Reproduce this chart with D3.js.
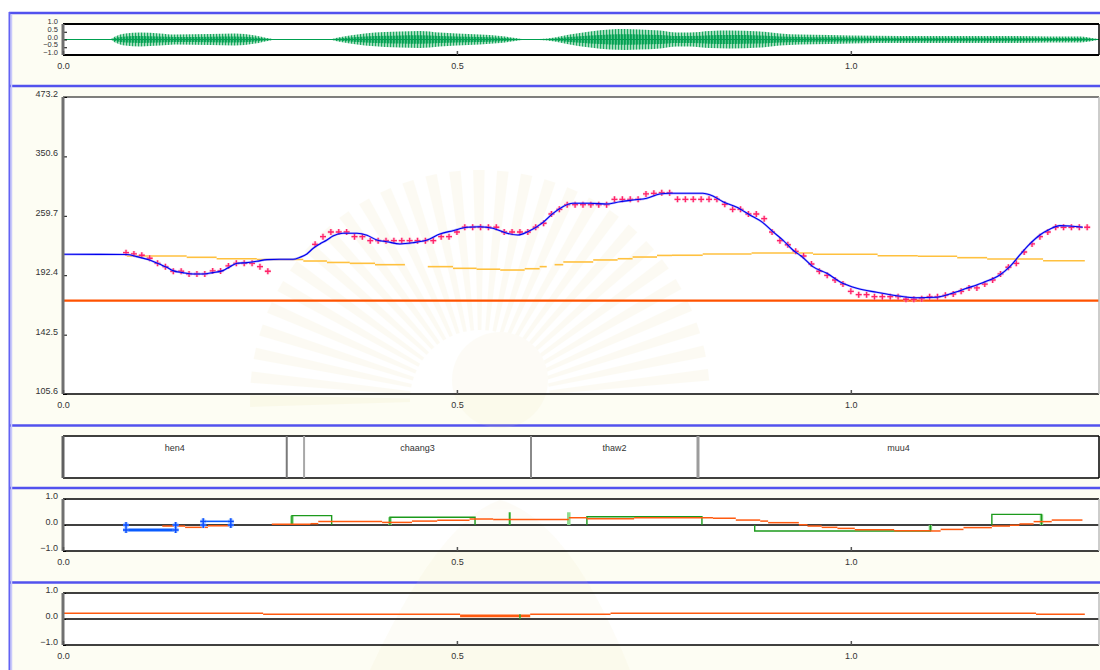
<!DOCTYPE html>
<html>
<head>
<meta charset="utf-8">
<script src="https://cdn.jsdelivr.net/npm/d3@7"></script>
<style>
  html, body { margin: 0; padding: 0; background: #fff; }
  svg { display: block; font-family: "Liberation Sans", Arial, sans-serif; }
  .tick text, .lbl { font-size: 9px; fill: #333; }
  .small .tick text { font-size: 7.5px; }
</style>
</head>
<body>
<svg id="chart" width="1100" height="670"></svg>
<script>
// ---- time axis ----
const timeEnd = 1.315;               // seconds shown
const timeTicks = [0, 0.5, 1.0];

// ---- waveform: amplitude envelope [time, peak] ----
const ampTicks = [1.0, 0.5, 0.0, -0.5, -1.0];
const waveEnvelope = [
  [0, 0.02], [0.060, 0.02], [0.066, 0.19], [0.079, 0.39], [0.098, 0.45], [0.123, 0.39],
  [0.142, 0.32], [0.187, 0.35], [0.218, 0.39], [0.244, 0.26], [0.263, 0.06], [0.269, 0.02],
  [0.339, 0.02], [0.349, 0.13], [0.364, 0.26], [0.383, 0.39], [0.409, 0.48], [0.428, 0.52],
  [0.453, 0.55], [0.478, 0.45], [0.500, 0.39], [0.529, 0.32], [0.555, 0.23], [0.574, 0.10],
  [0.586, 0.02], [0.605, 0.03], [0.624, 0.13], [0.643, 0.32], [0.669, 0.52], [0.694, 0.65],
  [0.713, 0.68], [0.732, 0.65], [0.758, 0.58], [0.779, 0.45], [0.796, 0.45], [0.821, 0.55],
  [0.846, 0.58], [0.885, 0.52], [0.910, 0.39], [0.935, 0.32], [0.973, 0.29], [0.999, 0.26],
  [1.062, 0.23], [1.126, 0.23], [1.189, 0.23], [1.253, 0.19], [1.291, 0.19], [1.310, 0.06],
  [1.315, 0.02]
];

// ---- F0 (Hz) ----
const pitchTicks = [105.6, 142.5, 192.4, 259.7, 350.6, 473.2];
const floorHz = 169.2;
const pitchCurve = [
  [0, 213.8], [0.081, 213.6], [0.0935, 211.3], [0.110, 207.8], [0.123, 203.3], [0.1316, 200.3],
  [0.1396, 196.9], [0.152, 194.9], [0.165, 193.6], [0.178, 193.6], [0.190, 194.9], [0.203, 196.9],
  [0.212, 200.9], [0.221, 204.3], [0.2335, 205.0], [0.246, 206.4], [0.259, 208.1], [0.2754, 208.5],
  [0.292, 208.5], [0.3008, 210.6], [0.3096, 214.2], [0.3173, 220.2], [0.326, 225.3], [0.335, 229.8],
  [0.3426, 234.5], [0.3553, 237.8], [0.373, 237.8], [0.3858, 235.4], [0.3985, 229.8], [0.411, 227.9],
  [0.4277, 225.3], [0.444, 226.7], [0.462, 229.8], [0.4784, 236.9], [0.495, 240.9], [0.5127, 245.1],
  [0.529, 245.8], [0.5457, 243.9], [0.5635, 237.8], [0.5774, 235.7], [0.590, 239.7], [0.609, 250.9],
  [0.622, 263.0], [0.6345, 272.0], [0.647, 276.7], [0.6688, 276.7], [0.690, 275.7], [0.707, 278.9],
  [0.7234, 281.3], [0.741, 283.7], [0.7576, 290.0], [0.770, 291.0], [0.812, 291.0], [0.8249, 287.0],
  [0.8376, 278.9], [0.8553, 271.1], [0.8718, 260.8], [0.8883, 250.9], [0.901, 239.7], [0.9137, 229.8],
  [0.9264, 218.5], [0.939, 210.6], [0.9518, 200.9], [0.9695, 194.3], [0.986, 186.2], [1.0076, 180.1],
  [1.033, 176.5], [1.0584, 173.5], [1.0838, 171.7], [1.109, 172.1], [1.1256, 175.0], [1.1472, 180.1],
  [1.1675, 185.3], [1.189, 192.6], [1.2018, 200.9], [1.2145, 213.1], [1.2272, 225.3], [1.240, 235.7],
  [1.2525, 242.6], [1.2652, 247.1], [1.278, 246.7], [1.2944, 245.1]
];
const pitchMarks = [
  [0.08, 215.6], [0.09, 214.2], [0.10, 212.8], [0.11, 209.6], [0.12, 204.3], [0.13, 200.9],
  [0.14, 196.3], [0.15, 196.3], [0.16, 193.6], [0.17, 193.6], [0.18, 193.6], [0.19, 196.6],
  [0.20, 196.6], [0.21, 201.6], [0.22, 204.3], [0.23, 204.3], [0.24, 204.3], [0.25, 200.9],
  [0.26, 196.3],
  [0.32, 224.9], [0.33, 233.7], [0.34, 239.3], [0.35, 239.3], [0.36, 239.3], [0.37, 233.7],
  [0.38, 233.7], [0.39, 229.0], [0.40, 229.0], [0.41, 229.0], [0.42, 229.0], [0.43, 229.0],
  [0.44, 229.0], [0.45, 229.0], [0.46, 229.0], [0.47, 229.0], [0.48, 233.7], [0.49, 233.7],
  [0.50, 239.3], [0.51, 245.1], [0.52, 245.1], [0.53, 245.1], [0.54, 245.1], [0.55, 245.1],
  [0.56, 239.3], [0.57, 239.3], [0.58, 239.3], [0.59, 239.3], [0.60, 245.1], [0.61, 250.1],
  [0.62, 262.1], [0.63, 268.4], [0.64, 274.7], [0.65, 274.7], [0.66, 274.7], [0.67, 274.7],
  [0.68, 274.7], [0.69, 274.7], [0.70, 282.3], [0.71, 282.3], [0.72, 282.3], [0.73, 282.3],
  [0.74, 290.0], [0.75, 290.9], [0.76, 291.9], [0.77, 291.9], [0.78, 282.3], [0.79, 282.3],
  [0.80, 282.3], [0.81, 282.3], [0.82, 282.3], [0.83, 282.3], [0.84, 275.2], [0.85, 268.4],
  [0.86, 268.4], [0.87, 262.1], [0.88, 262.1], [0.89, 256.0], [0.90, 239.3], [0.91, 229.0],
  [0.92, 224.4], [0.93, 217.1], [0.94, 212.0], [0.95, 203.6], [0.96, 196.3], [0.97, 192.3],
  [0.98, 187.8], [0.99, 184.0], [1.00, 177.4], [1.01, 174.4], [1.02, 174.4], [1.03, 172.6],
  [1.04, 172.6], [1.05, 172.6], [1.06, 172.6], [1.07, 170.4], [1.08, 170.4], [1.09, 170.9],
  [1.10, 172.6], [1.11, 172.6], [1.12, 173.8], [1.13, 175.0], [1.14, 177.4], [1.15, 180.4],
  [1.16, 180.4], [1.17, 184.0], [1.18, 187.8], [1.19, 193.6], [1.20, 200.3], [1.21, 204.3],
  [1.22, 216.3], [1.23, 225.3], [1.24, 233.7], [1.25, 239.3], [1.26, 245.1], [1.27, 245.1],
  [1.28, 245.1], [1.29, 245.1], [1.30, 245.1]
];
// declination line: [start, end, Hz]
const declination = [
  [0.081, 0.157, 212.0], [0.157, 0.195, 210.6], [0.195, 0.246, 209.1], [0.246, 0.305, 208.3],
  [0.305, 0.335, 206.7], [0.335, 0.364, 205.2], [0.364, 0.396, 204.3], [0.396, 0.434, 202.9],
  [0.463, 0.495, 200.9], [0.495, 0.525, 199.2], [0.525, 0.555, 198.3], [0.555, 0.586, 197.5],
  [0.586, 0.605, 198.8], [0.605, 0.614, 200.9],
  [0.624, 0.635, 202.9], [0.635, 0.673, 205.7], [0.673, 0.704, 207.8], [0.704, 0.723, 209.1],
  [0.723, 0.754, 210.9], [0.754, 0.773, 212.6], [0.773, 0.812, 212.8], [0.812, 0.874, 214.2],
  [0.874, 0.952, 215.2], [0.952, 1.034, 213.8], [1.034, 1.085, 212.3], [1.085, 1.135, 211.7],
  [1.135, 1.173, 210.2], [1.173, 1.244, 208.8], [1.244, 1.297, 207.0]
];

// ---- syllable tier: [start, end, label] ----
const syllables = [
  [0.000, 0.284, "hen4"],
  [0.284, 0.306, ""],
  [0.306, 0.594, "chaang3"],
  [0.594, 0.806, "thaw2"],
  [0.806, 1.315, "muu4"]
];

// ---- lower tracks (normalised units) ----
const unitTicks = [1.0, 0.0, -1.0];
const blueTargets = [[0.080, 0.143, -0.19], [0.178, 0.213, 0.14]];     // [start, end, value]
const greenTargets = [
  [0.2906, 0.341, 0.36], [0.415, 0.523, 0.30], [0.665, 0.811, 0.32],
  [0.878, 1.101, -0.23], [1.179, 1.242, 0.41]
];
const greenOnsets = [[0.2906, 0.36], [0.415, 0.30], [0.642, 0.49], [1.101, -0.23], [1.242, 0.41]];
const greenSpikes = [[0.567, 0.49]];
const trackA = [
  [0.126, 0.155, -0.04], [0.155, 0.184, -0.09], [0.184, 0.213, -0.03],
  [0.265, 0.314, 0.03], [0.314, 0.324, 0.05], [0.324, 0.405, 0.13], [0.405, 0.443, 0.10],
  [0.443, 0.475, 0.15], [0.475, 0.516, 0.18], [0.516, 0.546, 0.23], [0.546, 0.642, 0.21],
  [0.642, 0.665, 0.28], [0.665, 0.725, 0.24], [0.725, 0.825, 0.28], [0.825, 0.854, 0.26],
  [0.854, 0.885, 0.19], [0.885, 0.895, 0.15], [0.895, 0.934, 0.09], [0.934, 0.945, 0.01],
  [0.945, 0.963, -0.04], [0.963, 0.983, -0.09], [0.983, 1.005, -0.13], [1.005, 1.055, -0.18],
  [1.055, 1.101, -0.22], [1.101, 1.114, -0.23], [1.114, 1.143, -0.17], [1.143, 1.179, -0.10],
  [1.179, 1.202, -0.04], [1.202, 1.214, -0.01], [1.214, 1.232, 0.04], [1.232, 1.255, 0.13],
  [1.255, 1.294, 0.19]
];
const trackB = [
  [0.000, 0.254, 0.22], [0.254, 0.504, 0.18], [0.504, 0.593, 0.12],
  [0.593, 0.695, 0.18], [0.695, 1.235, 0.22], [1.235, 1.297, 0.18]
];
const trackBSpikes = [[0.580, 0.18]];

// ================= drawing =================
const svg = d3.select("#chart");
const X0 = 63, X1 = 1099;
const x = d3.scaleLinear().domain([0, timeEnd]).range([X0, X1]);

const panels = {
  wave:  { top: 24,  bottom: 55 },
  pitch: { top: 97,  bottom: 394 },
  tier:  { top: 436, bottom: 478 },
  a:     { top: 499, bottom: 551 },
  b:     { top: 593, bottom: 645 }
};

// page frame
svg.append("rect").attr("width", 1100).attr("height", 670).attr("fill", "#ffffff");
svg.append("rect").attr("x", 9).attr("y", 12).attr("width", 1091).attr("height", 658).attr("fill", "#fdfdf3");
[13, 86, 425.5, 488, 582.5].forEach(yy => {
  svg.append("line").attr("x1", 9).attr("x2", 1100).attr("y1", yy).attr("y2", yy)
    .attr("stroke", "#5252ee").attr("stroke-width", 2.5);
});
svg.append("line").attr("x1", 9.5).attr("x2", 9.5).attr("y1", 12).attr("y2", 670)
  .attr("stroke", "#6262f4").attr("stroke-width", 2);
svg.append("line").attr("x1", 11.5).attr("x2", 11.5).attr("y1", 14).attr("y2", 670)
  .attr("stroke", "#c9c9fb").attr("stroke-width", 1.5);

// white plot areas
Object.values(panels).forEach(p => {
  svg.append("rect").attr("x", X0).attr("y", p.top).attr("width", X1 - X0).attr("height", p.bottom - p.top)
    .attr("fill", "#ffffff");
});

// stripes for waveform fill
const defs = svg.append("defs");
const pat1 = defs.append("pattern").attr("id", "stripeLight").attr("patternUnits", "userSpaceOnUse")
  .attr("width", 3).attr("height", 40);
pat1.append("rect").attr("width", 3).attr("height", 40).attr("fill", "#a6e0bf");
pat1.append("rect").attr("width", 1.1).attr("height", 40).attr("fill", "#1aa860");
const pat2 = defs.append("pattern").attr("id", "stripeDark").attr("patternUnits", "userSpaceOnUse")
  .attr("width", 3).attr("height", 40);
pat2.append("rect").attr("width", 3).attr("height", 40).attr("fill", "#00a050");
pat2.append("rect").attr("x", 1.8).attr("width", 1.1).attr("height", 40).attr("fill", "#5cc690");

// faint emblem, laid under the plot marks
{
  const cx = 480, cy = 400;
  const g = svg.append("g").attr("opacity", 0.1).style("pointer-events", "none");
  const rays = d3.range(0, 30);
  g.selectAll("path").data(rays).join("path")
    .attr("d", i => {
      const a0 = Math.PI + (i / 30) * Math.PI - 0.03;
      const a1 = a0 + 0.05;
      const r0 = 70, r1 = 230;
      return `M${cx + r0 * Math.cos(a0)},${cy + r0 * Math.sin(a0)}` +
             `L${cx + r1 * Math.cos(a0)},${cy + r1 * Math.sin(a0)}` +
             `L${cx + r1 * Math.cos(a1)},${cy + r1 * Math.sin(a1)}` +
             `L${cx + r0 * Math.cos(a1)},${cy + r0 * Math.sin(a1)}Z`;
    })
    .attr("fill", "#e8d890");
  g.append("circle").attr("cx", cx + 20).attr("cy", cy - 20).attr("r", 48).attr("fill", "#eee2b0");
  g.append("path").attr("d", `M${cx - 110},670 Q${cx - 40},520 ${cx + 20},500 Q${cx + 90},520 ${cx + 150},670Z`)
    .attr("fill", "#eee2b0");
}

// generic axes helpers
function leftAxis(scale, ticks, fmt, p, tickLen, cls) {
  const ax = d3.axisLeft(scale).tickValues(ticks).tickFormat(fmt)
    .tickSizeInner(-tickLen).tickSizeOuter(0).tickPadding(5);
  const g = svg.append("g").attr("class", cls || "").attr("transform", `translate(${X0},0)`).call(ax);
  g.select(".domain").remove();
  g.selectAll(".tick line").attr("stroke", "#000").attr("stroke-width", 1);
  g.selectAll(".tick text").attr("dy", "-0.05em").attr("font-family", "Liberation Sans, Arial, sans-serif");
  svg.append("line").attr("x1", X0).attr("x2", X0).attr("y1", p.top).attr("y2", p.bottom)
    .attr("stroke", "#707070").attr("stroke-width", 3);
}
function bottomAxis(p) {
  const ax = d3.axisBottom(x).tickValues(timeTicks).tickFormat(d3.format(".1f"))
    .tickSizeInner(-4).tickSizeOuter(0).tickPadding(8);
  const g = svg.append("g").attr("transform", `translate(0,${p.bottom})`).call(ax);
  g.select(".domain").remove();
  g.selectAll(".tick line").attr("stroke", "#555").attr("stroke-width", 1.5);
  g.selectAll(".tick text").attr("font-family", "Liberation Sans, Arial, sans-serif");
}
function frame(p, topW, botW, rightColor) {
  svg.append("line").attr("x1", X0).attr("x2", X1).attr("y1", p.top).attr("y2", p.top)
    .attr("stroke", "#000").attr("stroke-width", topW);
  svg.append("line").attr("x1", X0).attr("x2", X1).attr("y1", p.bottom).attr("y2", p.bottom)
    .attr("stroke", "#000").attr("stroke-width", botW);
  svg.append("line").attr("x1", X1).attr("x2", X1).attr("y1", p.top).attr("y2", p.bottom)
    .attr("stroke", rightColor).attr("stroke-width", 1.5);
}

// ---- waveform panel ----
{
  const p = panels.wave;
  const y = d3.scaleLinear().domain([-1, 1]).range([p.bottom, p.top]);
  const outer = d3.area().x(d => x(d[0])).y0(d => y(-d[1])).y1(d => y(d[1])).curve(d3.curveMonotoneX);
  const inner = d3.area().x(d => x(d[0])).y0(d => y(-d[1] * 0.5)).y1(d => y(d[1] * 0.5)).curve(d3.curveMonotoneX);
  svg.append("path").datum(waveEnvelope).attr("d", outer).attr("fill", "url(#stripeLight)");
  svg.append("path").datum(waveEnvelope).attr("d", inner).attr("fill", "url(#stripeDark)");
  svg.append("line").attr("x1", X0).attr("x2", X1).attr("y1", y(0)).attr("y2", y(0))
    .attr("stroke", "#00a050").attr("stroke-width", 1);
  frame(p, 2, 2, "#000");
  leftAxis(y, ampTicks, d3.format(".1f"), p, 4, "small");
  bottomAxis(p);
}

// ---- F0 panel ----
{
  const p = panels.pitch;
  const y = d3.scaleLog().domain([pitchTicks[0], pitchTicks[pitchTicks.length - 1]]).range([p.bottom, p.top]);
  // declination steps
  svg.append("g").selectAll("line").data(declination).join("line")
    .attr("x1", d => x(d[0])).attr("x2", d => x(d[1]))
    .attr("y1", d => y(d[2])).attr("y2", d => y(d[2]))
    .attr("stroke", "#ffc13f").attr("stroke-width", 1.6);
  // floor line
  svg.append("line").attr("x1", X0).attr("x2", X1).attr("y1", y(floorHz)).attr("y2", y(floorHz))
    .attr("stroke", "#ff5200").attr("stroke-width", 2.2);
  // measured F0 marks
  const marks = svg.append("g");
  marks.selectAll("path.halo").data(pitchMarks).join("path").attr("class", "halo")
    .attr("d", d => `M${x(d[0]) - 3},${y(d[1])}h6M${x(d[0])},${y(d[1]) - 3}v6`)
    .attr("stroke", "#ff9fc0").attr("stroke-width", 3).attr("opacity", 0.55);
  // smoothed contour
  svg.append("path").datum(pitchCurve)
    .attr("d", d3.line().x(d => x(d[0])).y(d => y(d[1])).curve(d3.curveMonotoneX))
    .attr("fill", "none").attr("stroke", "#8080ff").attr("stroke-width", 2.2).attr("opacity", 0.6);
  svg.append("path").datum(pitchCurve)
    .attr("d", d3.line().x(d => x(d[0])).y(d => y(d[1])).curve(d3.curveMonotoneX))
    .attr("fill", "none").attr("stroke", "#0000ee").attr("stroke-width", 1.1);
  marks.selectAll("path.core").data(pitchMarks).join("path").attr("class", "core")
    .attr("d", d => `M${x(d[0]) - 3},${y(d[1])}h6M${x(d[0])},${y(d[1]) - 3}v6`)
    .attr("stroke", "#ff2268").attr("stroke-width", 1.3);
  frame(p, 1, 1.6, "#bdbdbd");
  leftAxis(y, pitchTicks, d3.format(".1f"), p, 4);
  bottomAxis(p);
}

// ---- syllable tier ----
{
  const p = panels.tier;
  frame(p, 1.4, 1.4, "#000");
  const bounds = svg.append("g");
  const boundStyle = ["#606060", "#7a7a7a", "#a8a8a8", "#8a8a8a", "#9c9c9c"];
  const boundWidth = [3, 2, 2, 2, 3];
  bounds.selectAll("line").data(syllables).join("line")
    .attr("x1", d => x(d[0])).attr("x2", d => x(d[0]))
    .attr("y1", p.top).attr("y2", p.bottom)
    .attr("stroke", (d, i) => boundStyle[i]).attr("stroke-width", (d, i) => boundWidth[i]);
  svg.append("g").selectAll("text").data(syllables.filter(d => d[2])).join("text")
    .attr("class", "lbl")
    .attr("x", d => (x(d[0]) + x(d[1])) / 2).attr("y", p.top + 13)
    .attr("text-anchor", "middle").attr("dominant-baseline", "middle")
    .text(d => d[2]);
}

// ---- track panel A ----
{
  const p = panels.a;
  const y = d3.scaleLinear().domain([-1, 1]).range([p.bottom, p.top]);
  svg.append("line").attr("x1", X0).attr("x2", X1).attr("y1", y(0)).attr("y2", y(0))
    .attr("stroke", "#000").attr("stroke-width", 1.3);
  // green target boxes
  svg.append("g").selectAll("line").data(greenOnsets).join("line")
    .attr("x1", d => x(d[0])).attr("x2", d => x(d[0]))
    .attr("y1", y(0)).attr("y2", d => y(d[1]))
    .attr("stroke", "#8fdc8f").attr("stroke-width", 3.5);
  svg.append("g").selectAll("path").data(greenTargets).join("path")
    .attr("d", d => `M${x(d[0])},${y(0)}V${y(d[2])}H${x(d[1])}V${y(0)}`)
    .attr("fill", "none").attr("stroke", "#1c9a1c").attr("stroke-width", 1.4);
  svg.append("g").selectAll("line").data(greenSpikes).join("line")
    .attr("x1", d => x(d[0])).attr("x2", d => x(d[0]))
    .attr("y1", y(0)).attr("y2", d => y(d[1]))
    .attr("stroke", "#2aaa2a").attr("stroke-width", 2);
  // orange steps
  svg.append("g").selectAll("line").data(trackA).join("line")
    .attr("x1", d => x(d[0])).attr("x2", d => x(d[1]))
    .attr("y1", d => y(d[2])).attr("y2", d => y(d[2]))
    .attr("stroke", "#ff5a10").attr("stroke-width", 1.5);
  // blue targets with end markers
  const bt = svg.append("g");
  bt.selectAll("line.seg").data(blueTargets).join("line").attr("class", "seg")
    .attr("x1", d => x(d[0])).attr("x2", d => x(d[1]))
    .attr("y1", d => y(d[2])).attr("y2", d => y(d[2]))
    .attr("stroke", "#0a5cff").attr("stroke-width", (d, i) => i === 0 ? 3 : 1.6);
  const ends = blueTargets.flatMap(d => [[d[0], d[2]], [d[1], d[2]]]);
  const crossAt = (cx, cy) => `M${cx - 3},${cy}h6M${cx},${cy - 3}v6`;
  bt.selectAll("path.stem").data(ends).join("path").attr("class", "stem")
    .attr("d", d => `M${x(d[0])},${y(0)}V${y(d[1])}` + crossAt(x(d[0]), y(0)) + crossAt(x(d[0]), y(d[1])))
    .attr("stroke", "#8fb8ff").attr("stroke-width", 3.2).attr("fill", "none");
  bt.selectAll("path.stemcore").data(ends).join("path").attr("class", "stemcore")
    .attr("d", d => `M${x(d[0])},${y(0)}V${y(d[1])}` + crossAt(x(d[0]), y(0)) + crossAt(x(d[0]), y(d[1])))
    .attr("stroke", "#0a4cff").attr("stroke-width", 1.4).attr("fill", "none");
  frame(p, 1.3, 1.5, "#bdbdbd");
  leftAxis(y, unitTicks, d3.format(".1f"), p, 3);
  bottomAxis(p);
}

// ---- track panel B ----
{
  const p = panels.b;
  const y = d3.scaleLinear().domain([-1, 1]).range([p.bottom, p.top]);
  svg.append("line").attr("x1", X0).attr("x2", X1).attr("y1", y(0)).attr("y2", y(0))
    .attr("stroke", "#000").attr("stroke-width", 1.3);
  svg.append("g").selectAll("line").data(trackB).join("line")
    .attr("x1", d => x(d[0])).attr("x2", d => x(d[1]))
    .attr("y1", d => y(d[2])).attr("y2", d => y(d[2]))
    .attr("stroke", "#ff5a10").attr("stroke-width", (d, i) => i === 2 ? 2.6 : 1.4);
  svg.append("g").selectAll("line").data(trackBSpikes).join("line")
    .attr("x1", d => x(d[0])).attr("x2", d => x(d[0]))
    .attr("y1", y(0)).attr("y2", d => y(d[1]))
    .attr("stroke", "#2aaa2a").attr("stroke-width", 1.5);
  frame(p, 1.3, 1.5, "#bdbdbd");
  leftAxis(y, unitTicks, d3.format(".1f"), p, 3);
  bottomAxis(p);
}
</script>
</body>
</html>
